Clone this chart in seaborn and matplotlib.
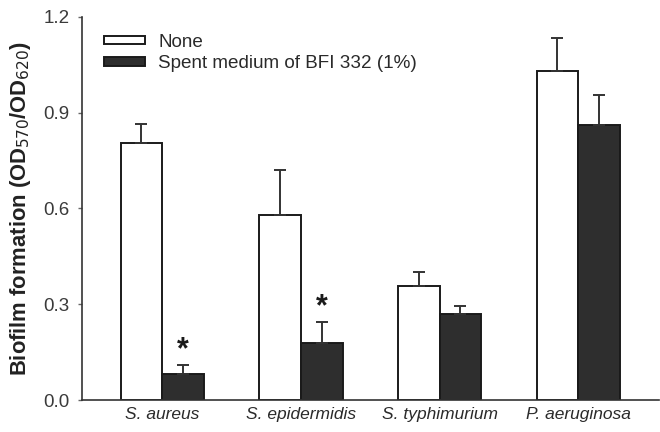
import matplotlib
matplotlib.use("Agg")
import matplotlib.pyplot as plt
import seaborn as sns
import pandas as pd
from matplotlib.patches import Patch

# Biofilm formation per strain, untreated vs. spent medium
strains = ["S. aureus", "S. epidermidis", "S. typhimurium", "P. aeruginosa"]
treatments = ["None", "Spent medium of BFI 332 (1%)"]
none_mean = [0.805, 0.580, 0.356, 1.030]
none_err = [0.060, 0.140, 0.044, 0.104]
spent_mean = [0.081, 0.180, 0.270, 0.862]
spent_err = [0.030, 0.065, 0.026, 0.094]
significant = [True, True, False, False]
yticks = [0.0, 0.3, 0.6, 0.9, 1.2]

df = pd.DataFrame({
    "strain": strains * 2,
    "treatment": [treatments[0]] * 4 + [treatments[1]] * 4,
    "value": none_mean + spent_mean,
})

sns.set_theme(style="ticks")
plt.rcParams["font.family"] = ["Liberation Sans", "DejaVu Sans"]

fig = plt.figure(figsize=(6.6, 4.32), dpi=100)
ax = fig.add_axes([0.124, 0.074, 0.874, 0.887])

dark = "#2e2e2e"
palette = {treatments[0]: "white", treatments[1]: dark}
sns.barplot(data=df, x="strain", y="value", hue="treatment", order=strains,
            hue_order=treatments, palette=palette, width=0.6, errorbar=None,
            edgecolor="#1a1a1a", linewidth=1.4, ax=ax, legend=False, saturation=1)

# upper-only error bars, taken from the drawn bars
for cont, errs in zip(ax.containers, [none_err, spent_err]):
    for bar, e in zip(cont.patches, errs):
        xc = bar.get_x() + bar.get_width() / 2
        h = bar.get_height()
        ax.errorbar(xc, h, yerr=[[0], [e]], fmt="none", ecolor="#333333",
                    elinewidth=1.4, capsize=4.5, capthick=1.4, zorder=1)

# significance marks above the treated bars
for bar, e, sig in zip(ax.containers[1].patches, spent_err, significant):
    if sig:
        xc = bar.get_x() + bar.get_width() / 2
        ax.text(xc, bar.get_height() + e - 0.002, "*", ha="center", va="bottom",
                fontsize=22, fontweight="bold", color="#1a1a1a")

ax.set_xlim(-0.58, 3.58)
ax.set_ylim(0, 1.2)
ax.set_yticks(yticks)
ax.set_yticklabels([f"{t:.1f}" for t in yticks], fontsize=13.5, color="#3a3a3a")
ax.set_xticks(range(len(strains)))
ax.set_xticklabels(strains, fontsize=12.5, style="italic", color="#2a2a2a")
ax.tick_params(axis="x", length=0, pad=5)
ax.tick_params(axis="y", length=3, width=1, color="#666666", pad=6)
ax.set_xlabel("")
ax.set_ylabel(r"Biofilm formation (OD$_{570}$/OD$_{620}$)", fontsize=15.8,
              fontweight="bold", color="#222222", labelpad=7)

for side in ["top", "right"]:
    ax.spines[side].set_visible(False)
for side in ["left", "bottom"]:
    ax.spines[side].set_color("#333333")
    ax.spines[side].set_linewidth(1.2)

handles = [Patch(facecolor="white", edgecolor="#1a1a1a", linewidth=1.4),
           Patch(facecolor=dark, edgecolor="#1a1a1a", linewidth=1.4)]
ax.legend(handles, treatments, loc="upper left", bbox_to_anchor=(0.018, 0.985),
          frameon=False, fontsize=13.6, handlelength=2.2, handleheight=0.33,
          handletextpad=0.7, labelspacing=0.22, labelcolor="#2a2a2a",
          borderaxespad=0.2)

fig.savefig("out.png", dpi=100)
